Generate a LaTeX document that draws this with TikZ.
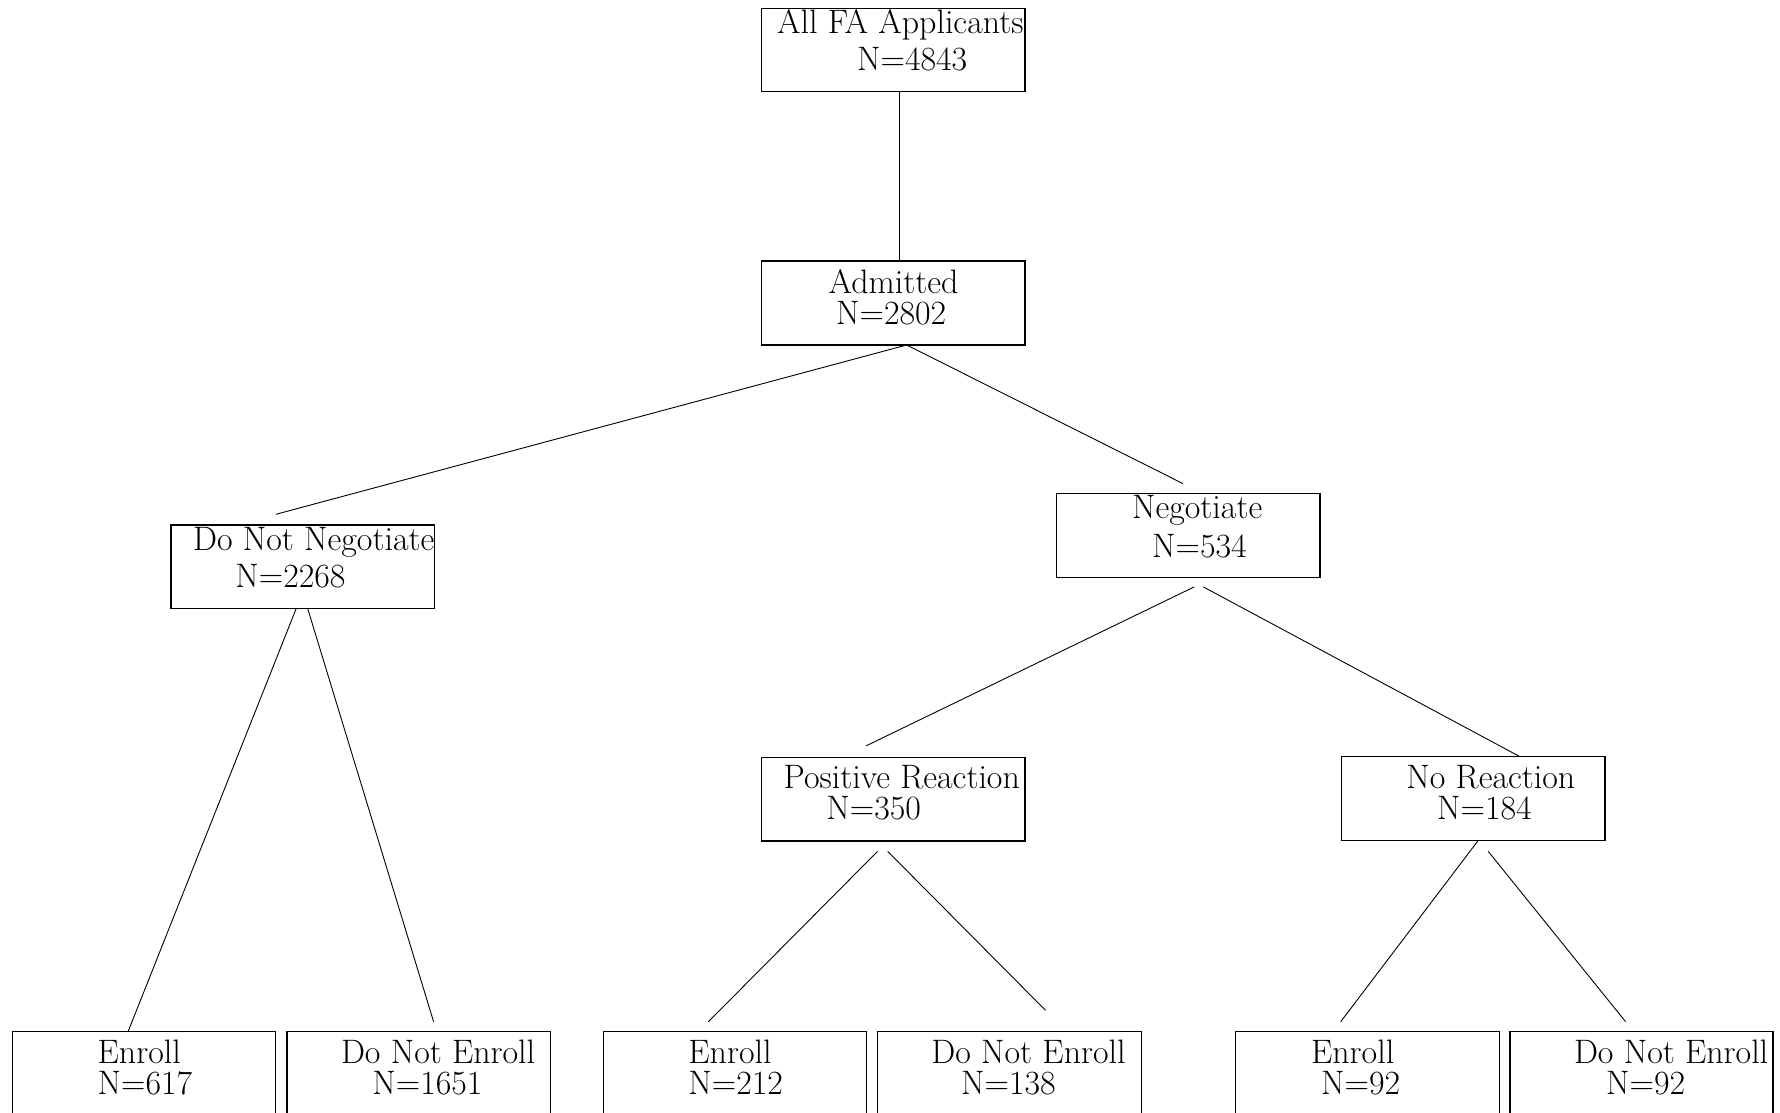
\documentclass[tikz,border=0pt]{standalone}
\usetikzlibrary{fit}
\begin{document}
\begin{tikzpicture}[x=0.5pt,y=-0.5pt,
  box/.style={draw,line width=0.6pt,inner sep=0pt},
  lbl/.style={anchor=base west,inner sep=0pt,font=\fontsize{16.95}{20}\selectfont},
  conn/.style={line width=0.45pt}]
\useasboundingbox (0,0) rectangle (1780,1112);
\clip (0,0) rectangle (1780,1112);
% boxes
\node[box,fit={(761.7,8.3) (1025,91.7)}] (all) {};
\node[box,fit={(761.7,261) (1025,345)}] (adm) {};
\node[box,fit={(171,525) (434.3,608.3)}] (dnn) {};
\node[box,fit={(1056.7,493.3) (1320,577.3)}] (neg) {};
\node[box,fit={(761.7,757.3) (1025,841)}] (pos) {};
\node[box,fit={(1341.7,756.7) (1605,840.7)}] (nor) {};
\node[box,fit={(12.6,1031.5) (275.8,1140)}] (e1) {};
\node[box,fit={(287,1031.5) (550.3,1140)}] (d1) {};
\node[box,fit={(603.7,1031.5) (866.7,1140)}] (e2) {};
\node[box,fit={(877.8,1031.5) (1141.2,1140)}] (d2) {};
\node[box,fit={(1235.4,1031.5) (1499.6,1140)}] (e3) {};
\node[box,fit={(1510,1031.5) (1773,1140)}] (d3) {};
% texts
\node[lbl] (allA) at (776.7,33.3) {All FA Applicants};
\node[lbl] (allB) at (856.7,70.7) {N=4843};
\node[lbl] (admA) at (828.3,293.3) {Admitted};
\node[lbl] (admB) at (835.7,324) {N=2802};
\node[lbl] (dnnA) at (192.7,550) {Do Not Negotiate};
\node[lbl] (dnnB) at (235,587.3) {N=2268};
\node[lbl] (negA) at (1131.7,518.3) {Negotiate};
\node[lbl] (negB) at (1151.7,557.3) {N=534};
\node[lbl] (posA) at (783.3,788.3) {Positive Reaction};
\node[lbl] (posB) at (826,819) {N=350};
\node[lbl] (norA) at (1406,788.3) {No Reaction};
\node[lbl] (norB) at (1436.7,819) {N=184};
\node[lbl] (e1A) at (97.3,1063) {Enroll};
\node[lbl] (e1B) at (97.3,1094) {N=617};
\node[lbl] (d1A) at (340.6,1063) {Do Not Enroll};
\node[lbl] (d1B) at (372,1094) {N=1651};
\node[lbl] (e2A) at (688,1063) {Enroll};
\node[lbl] (e2B) at (688,1094) {N=212};
\node[lbl] (d2A) at (931,1063) {Do Not Enroll};
\node[lbl] (d2B) at (960.7,1094) {N=138};
\node[lbl] (e3A) at (1310.7,1063) {Enroll};
\node[lbl] (e3B) at (1320.7,1094) {N=92};
\node[lbl] (d3A) at (1573.6,1063) {Do Not Enroll};
\node[lbl] (d3B) at (1605.7,1094) {N=92};
% connector ends
\coordinate (c1s) at (899,91.7);
\coordinate (c1e) at (899,261);
\coordinate (c2s) at (906.7,345);
\coordinate (c2e) at (275.9,514.3);
\coordinate (c3e) at (1182.9,483.6);
\coordinate (c4s) at (1194.2,586.9);
\coordinate (c4e) at (866.2,745.8);
\coordinate (c5s) at (1203.3,586.9);
\coordinate (c5e) at (1520,756.7);
\coordinate (c6s) at (296.3,608.3);
\coordinate (c6e) at (128.3,1031);
\coordinate (c7s) at (307.6,608.3);
\coordinate (c7e) at (433.6,1021.7);
\coordinate (c8s) at (877.5,851.4);
\coordinate (c8e) at (708.4,1021.7);
\coordinate (c9s) at (887.7,851.4);
\coordinate (c9e) at (1045.5,1010.3);
\coordinate (c10s) at (1478,840.7);
\coordinate (c10e) at (1340.7,1021.7);
\coordinate (c11s) at (1488.2,851.4);
\coordinate (c11e) at (1625.6,1021.7);
\draw[conn] (c1s) -- (c1e);
\draw[conn] (c2s) -- (c2e);
\draw[conn] (c2s) -- (c3e);
\draw[conn] (c4s) -- (c4e);
\draw[conn] (c5s) -- (c5e);
\draw[conn] (c6s) -- (c6e);
\draw[conn] (c7s) -- (c7e);
\draw[conn] (c8s) -- (c8e);
\draw[conn] (c9s) -- (c9e);
\draw[conn] (c10s) -- (c10e);
\draw[conn] (c11s) -- (c11e);
\end{tikzpicture}
\end{document}
